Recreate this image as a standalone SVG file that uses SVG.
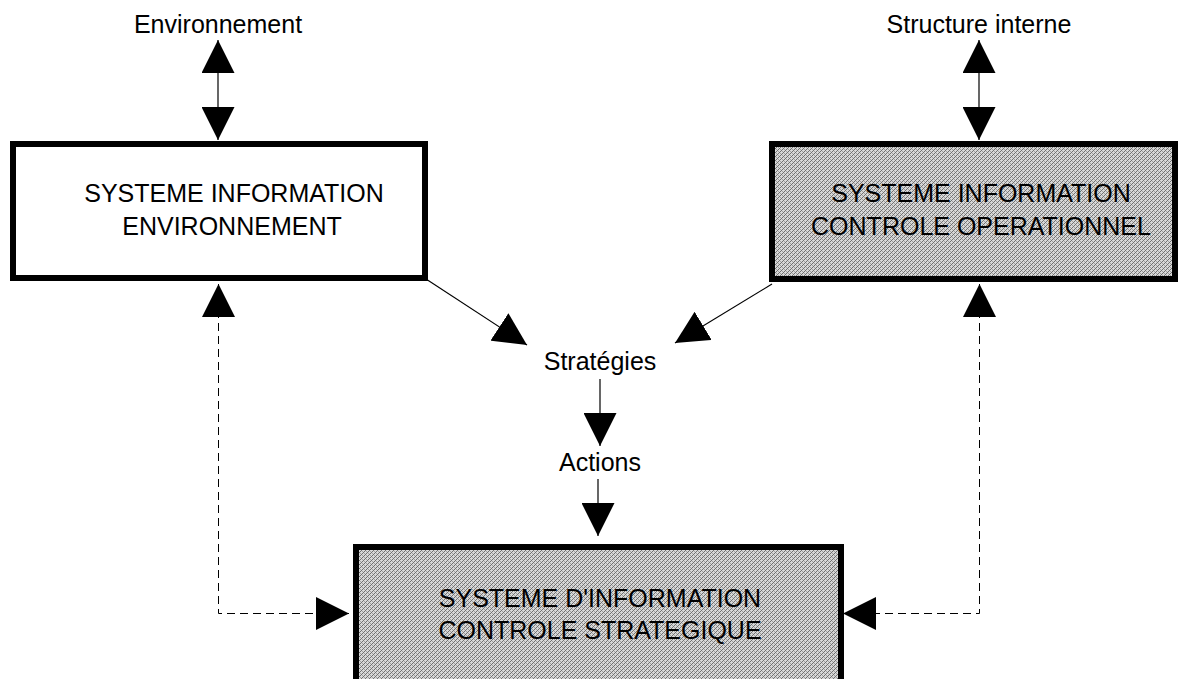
<svg xmlns="http://www.w3.org/2000/svg" width="1183" height="679" viewBox="0 0 1183 679">
<style>
text{font-family:"Liberation Sans",Arial,sans-serif;font-size:25px;fill:#000;text-anchor:middle}
.box{stroke:#000;stroke-width:6}
.w{fill:#fff}
.g{fill:url(#hatch)}
.c{fill:none;stroke:#000;stroke-width:1.2}
.d{fill:none;stroke:#000;stroke-width:1;stroke-dasharray:8 5}
</style>
<defs>
<pattern id="hatch" patternUnits="userSpaceOnUse" width="4" height="4">
<rect width="4" height="4" fill="#d8d8d8"/>
<rect x="0" y="3" width="1" height="1" fill="#707070"/>
<rect x="1" y="2" width="1" height="1" fill="#707070"/>
<rect x="2" y="1" width="1" height="1" fill="#707070"/>
<rect x="3" y="0" width="1" height="1" fill="#707070"/>
<rect x="0" y="1" width="1" height="1" fill="#a0a0a0"/>
<rect x="2" y="3" width="1" height="1" fill="#a0a0a0"/>
</pattern>
<marker id="ah" markerUnits="userSpaceOnUse" viewBox="0 0 33 33" markerWidth="33" markerHeight="33" refX="33" refY="16.5" orient="auto-start-reverse">
<path d="M0,0 L33,16.5 L0,33 Z" fill="#000"/>
</marker>
</defs>
<g id="connectors">
<line class="c" x1="218" y1="40" x2="218" y2="140" marker-start="url(#ah)" marker-end="url(#ah)"/>
<line class="c" x1="979" y1="40" x2="979" y2="140" marker-start="url(#ah)" marker-end="url(#ah)"/>
<line class="c" x1="426" y1="279" x2="527" y2="345" marker-end="url(#ah)"/>
<line class="c" x1="772" y1="284" x2="675" y2="343" marker-end="url(#ah)"/>
<line class="c" x1="600" y1="379" x2="600" y2="446" marker-end="url(#ah)"/>
<line class="c" x1="598" y1="479" x2="598" y2="536" marker-end="url(#ah)"/>
<polyline class="d" points="218.5,284 218.5,613.5 349,613.5" marker-start="url(#ah)" marker-end="url(#ah)"/>
<polyline class="d" points="979.5,284 979.5,613.5 843,613.5" marker-start="url(#ah)" marker-end="url(#ah)"/>
</g>
<g id="lbl-environnement"><text x="218" y="33">Environnement</text></g>
<g id="lbl-structure"><text x="979" y="33">Structure interne</text></g>
<g id="lbl-strategies"><text x="600" y="370">Stratégies</text></g>
<g id="lbl-actions"><text x="600" y="471">Actions</text></g>
<g id="node-env">
<rect class="box w" x="13" y="144" width="412" height="134"/>
<text x="234" y="202">SYSTEME INFORMATION</text>
<text x="232" y="235">ENVIRONNEMENT</text>
</g>
<g id="node-op">
<rect class="box g" x="772" y="144" width="403" height="135"/>
<text x="981" y="202">SYSTEME INFORMATION</text>
<text x="981" y="235">CONTROLE OPERATIONNEL</text>
</g>
<g id="node-strat">
<rect class="box g" x="356" y="547" width="485" height="200"/>
<text x="600" y="607">SYSTEME D'INFORMATION</text>
<text x="600" y="639">CONTROLE STRATEGIQUE</text>
</g>
</svg>
